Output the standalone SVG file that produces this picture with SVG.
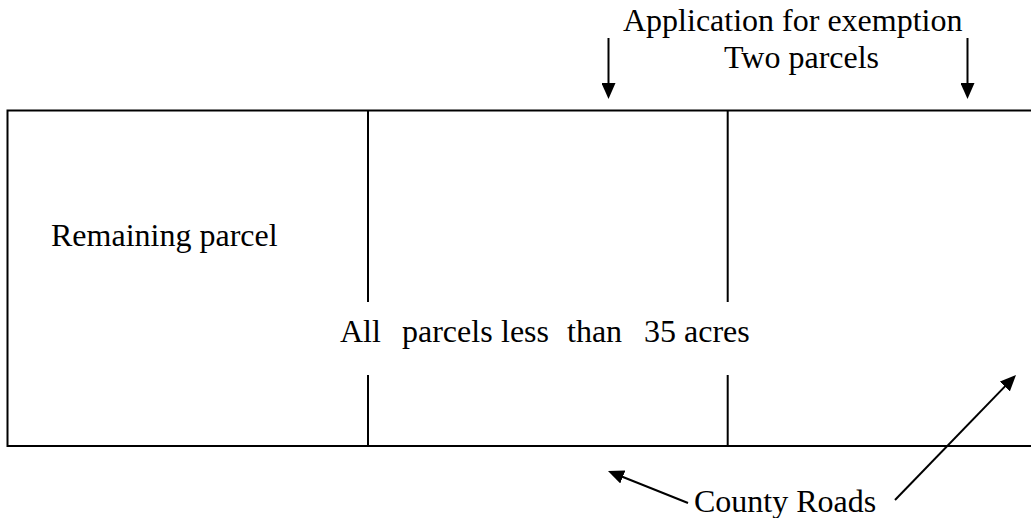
<svg xmlns="http://www.w3.org/2000/svg" width="1031" height="518" viewBox="0 0 1031 518">
  <style>
    .ln { stroke: #000; stroke-width: 2; fill: none; }
    .lbl { font-family: "Liberation Serif", "Times New Roman", serif; font-size: 32px; fill: #000; }
    .arr { stroke: #000; stroke-width: 2; fill: none; marker-end: url(#ah); }
  </style>
  <defs>
    <marker id="ah" markerUnits="userSpaceOnUse" markerWidth="16" markerHeight="14" viewBox="0 0 16 14" refX="12" refY="7" orient="auto">
      <path d="M0,0 L16,7 L0,14 z" fill="#000"/>
    </marker>
  </defs>
  <rect width="1031" height="518" fill="#fff"/>

  <g id="plot">
    <path class="ln" d="M1031,110.5 H7.5 V446 H1031"/>
    <path class="ln" d="M368,110.5 V302 M368,375 V446"/>
    <path class="ln" d="M727.7,110.5 V302 M727.7,375 V446"/>
  </g>

  <g id="remaining-parcel">
    <text class="lbl" x="51" y="246">Remaining parcel</text>
  </g>

  <g id="all-parcels">
    <text class="lbl" y="342"><tspan x="340">All</tspan><tspan x="402">parcels</tspan><tspan x="501">less</tspan><tspan x="567">than</tspan><tspan x="644">35 acres</tspan></text>
  </g>

  <g id="application">
    <text class="lbl" x="623" y="31">Application for exemption</text>
    <text class="lbl" x="724" y="68">Two parcels</text>
  </g>

  <g id="county-roads">
    <text class="lbl" x="694" y="512">County Roads</text>
  </g>

  <g id="connectors">
    <line class="arr" x1="608.5" y1="38" x2="608.5" y2="95"/>
    <line class="arr" x1="967.5" y1="38" x2="967.5" y2="95"/>
    <line class="arr" x1="688" y1="503" x2="611.7" y2="472.5"/>
    <line class="arr" x1="895" y1="500" x2="1013.2" y2="377.9"/>
  </g>
</svg>
